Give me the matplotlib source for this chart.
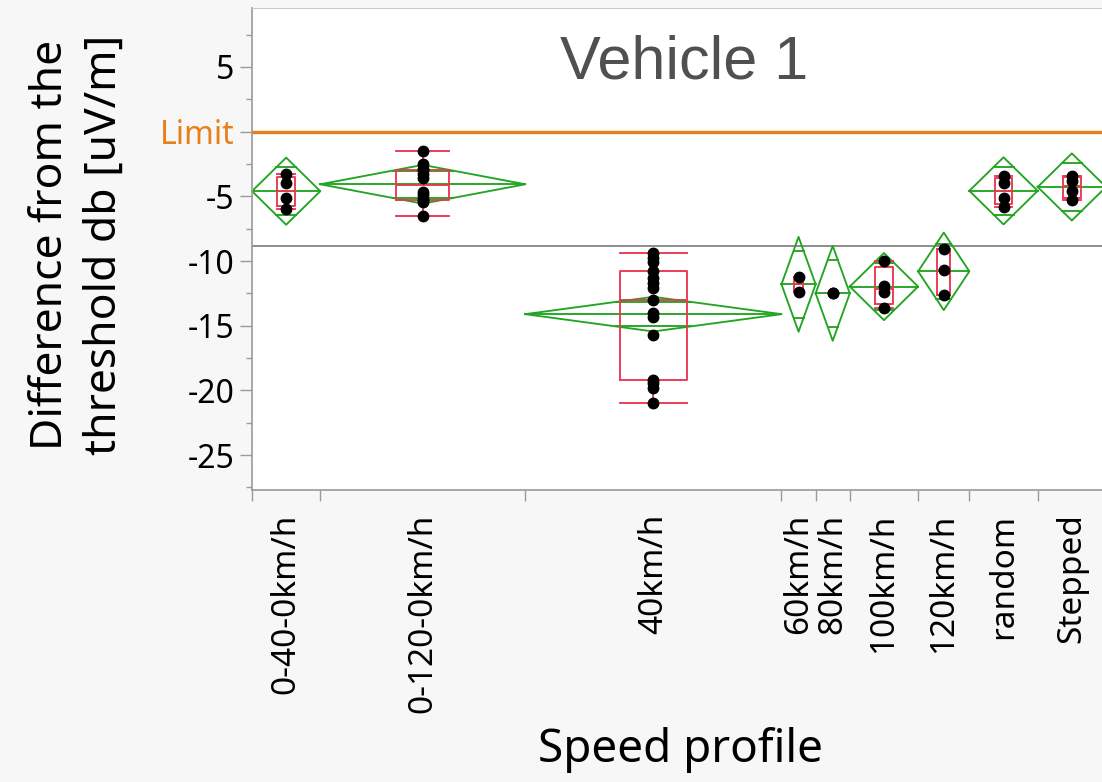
import numpy as np
import matplotlib.pyplot as plt

# speed profiles and measured differences from the threshold (dB uV/m)
profiles = ['0-40-0km/h', '0-120-0km/h', '40km/h', '60km/h', '80km/h',
            '100km/h', '120km/h', 'random', 'Stepped']
diff_0_40_0 = [-3.3, -4.0, -5.1, -6.0]
diff_0_120_0 = [-6.5, -5.4, -5.3, -5.2, -4.9, -4.7, -3.6, -3.3, -3.0, -2.9, -2.5, -1.5]
diff_40 = [-21.0, -19.8, -19.4, -19.2, -15.7, -14.3, -14.0, -13.0,
           -12.1, -11.7, -11.3, -10.8, -10.1, -9.8, -9.4]
diff_60 = [-11.2, -12.4]
diff_80 = [-12.5, -12.5]
diff_100 = [-10.0, -11.9, -12.4, -13.6]
diff_120 = [-9.1, -10.7, -12.6]
diff_random = [-3.4, -4.0, -5.1, -5.8]
diff_stepped = [-3.4, -3.8, -4.6, -5.3]
limit = 0.0

y_ticks = [-25, -20, -15, -10, -5, 0, 5]
y_ticklabels = ['-25', '-20', '-15', '-10', '-5', 'Limit', '5']

groups = [diff_0_40_0, diff_0_120_0, diff_40, diff_60, diff_80,
          diff_100, diff_120, diff_random, diff_stepped]
groups = [np.array(g) for g in groups]

GREEN = '#22a522'
RED = '#e8384f'
ORANGE = '#e8801a'
FONT = ['Noto Sans', 'DejaVu Sans']

# category widths proportional to group size
counts = np.array([len(g) for g in groups])
edges = np.concatenate([[0], np.cumsum(counts)])
centers = (edges[:-1] + edges[1:]) / 2
widths = np.diff(edges)

# pooled std error for the means diamonds
ss = sum(((g - g.mean()) ** 2).sum() for g in groups)
dof = counts.sum() - len(groups)
s_pooled = np.sqrt(ss / dof)
t975 = 2.0195  # t quantile, 41 df
grand_mean = np.concatenate(groups).mean()

fig = plt.figure(figsize=(11.02, 7.82), dpi=100, facecolor='#f7f7f7')
ax = fig.add_axes([252 / 1102, (782 - 490) / 782, 854 / 1102, 482 / 782])
ax.set_facecolor('white')

ax.axhline(limit, color=ORANGE, lw=2.4, zorder=1)
ax.axhline(grand_mean, color='#8c8c8c', lw=1.4, zorder=1)

# means diamonds with overlap marks
LW = 1.35
for g, left, right, c in zip(groups, edges[:-1], edges[1:], centers):
    m = g.mean()
    h = t975 * s_pooled / np.sqrt(len(g))
    ax.plot([left, c, right, c, left], [m, m + h, m, m - h, m],
            color=GREEN, lw=LW, zorder=2)
    ax.plot([left, right], [m, m], color=GREEN, lw=LW, zorder=2)
    d = h / np.sqrt(2)
    hw = (right - left) / 2 * (1 - 1 / np.sqrt(2))
    for yy in (m + d, m - d):
        ax.plot([c - hw, c + hw], [yy, yy], color=GREEN, lw=LW, zorder=2)

# box plots (quantiles on the (n+1)p rule)
stats = []
for g in groups:
    q1, med, q3 = np.percentile(g, [25, 50, 75], method='weibull')
    iqr = q3 - q1
    stats.append(dict(med=med, q1=q1, q3=q3,
                      whislo=g[g >= q1 - 1.5 * iqr].min(),
                      whishi=g[g <= q3 + 1.5 * iqr].max()))
bw = 0.26 * widths
line = dict(color=RED, lw=LW)
ax.bxp(stats, positions=centers, widths=bw, capwidths=bw, showfliers=False,
       boxprops=line, medianprops=line, whiskerprops=line, capprops=line,
       manage_ticks=False, zorder=3)

for g, c in zip(groups, centers):
    ax.plot(np.full(len(g), c), g, 'o', color='black', ms=7.5, zorder=4)

ax.set_xlim(0, counts.sum())
ax.set_ylim(-27.7, 9.56)

# y axis
ax.set_yticks(y_ticks)
ax.set_yticklabels(y_ticklabels, family=FONT, fontsize=23)
ax.set_yticks(np.arange(-27.5, 9, 5), minor=True)
ax.tick_params(axis='y', which='major', length=8.5, width=1, color='#9a9a9a', pad=4)
ax.tick_params(axis='y', which='minor', length=4.5, width=1, color='#9a9a9a')
lim_idx = y_ticks.index(0)
ax.get_yticklabels()[lim_idx].set_color(ORANGE)
ax.yaxis.get_major_ticks()[lim_idx].tick1line.set_color(ORANGE)

# x axis: ticks at category edges, labels at centres
ax.set_xticks(edges)
ax.set_xticklabels([])
ax.set_xticks(centers, minor=True)
ax.set_xticklabels(profiles, minor=True, rotation=90, family=FONT, fontsize=24,
                   va='top', ha='center')
ax.tick_params(axis='x', which='major', length=8, width=1, color='#9a9a9a')
ax.tick_params(axis='x', which='minor', length=0, pad=17)

for side in ('left', 'bottom'):
    ax.spines[side].set_color('#9a9a9a')
    ax.spines[side].set_linewidth(1.2)
ax.spines['top'].set_color('#c8c8c8')
ax.spines['right'].set_visible(False)

ax.text(0.506, 0.886, 'Vehicle 1', transform=ax.transAxes, ha='center', va='center',
        fontsize=44, family='Liberation Sans', color='#505050')

fig.text(78 / 1102, 1 - 245 / 782, 'Difference from the\nthreshold db [uV/m]',
         rotation=90, ha='center', va='center', family=FONT, fontsize=32,
         linespacing=1.3)
fig.text(681 / 1102, 1 - 750 / 782, 'Speed profile', ha='center', va='center',
         family=FONT, fontsize=33)

fig.savefig('out.png', dpi=100, facecolor=fig.get_facecolor())
